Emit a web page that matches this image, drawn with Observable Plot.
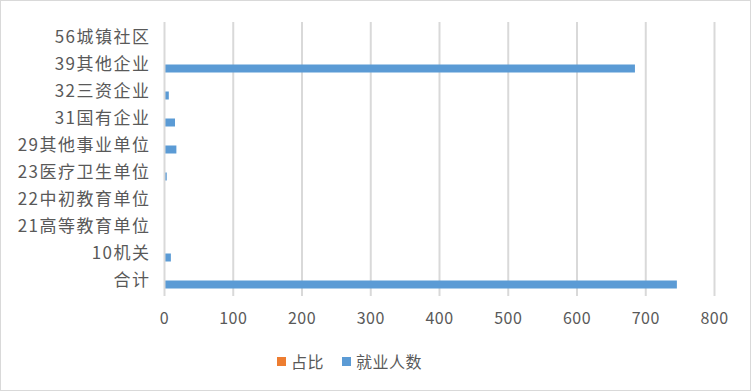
<!DOCTYPE html>
<html>
<head>
<meta charset="utf-8">
<script src="https://cdn.jsdelivr.net/npm/d3@7"></script>
<script src="https://cdn.jsdelivr.net/npm/@observablehq/plot@0.6"></script>
<style>
  html, body { margin: 0; padding: 0; background: #fff; }
  #frame {
    position: absolute; left: 0; top: 0;
    width: 749px; height: 389px;
    border: 1px solid #d9d9d9;
  }
  #chart { position: absolute; left: 0; top: 0; }
  #chart svg g[aria-label="y-axis tick label"] text { letter-spacing: 1.5px; font-size: 17px; }
  #chart svg g[aria-label="x-axis tick label"] text { letter-spacing: 0.5px; font-size: 16px; }
  #legend {
    position: absolute; left: 277px; top: 350px; height: 22px;
    display: flex; align-items: center;
    font-family: "Noto Sans CJK SC", sans-serif; font-size: 16px; color: #595959;
    letter-spacing: 0.5px;
  }
  .sw { display: inline-block; width: 9px; height: 9px; margin-right: 5px; }
  .item { display: flex; align-items: center; margin-right: 18px; }
</style>
</head>
<body>
<div id="frame"></div>
<div id="chart"></div>
<div id="legend"></div>
<script>
// Employment by employer type: head count and share of the total
const categories = ["合计", "10机关", "21高等教育单位", "22中初教育单位", "23医疗卫生单位",
  "29其他事业单位", "31国有企业", "32三资企业", "39其他企业", "56城镇社区"];
const employed = [746, 10, 0, 0, 4, 18, 16, 7, 685, 0];
const share = [1, 0.013, 0, 0, 0.005, 0.024, 0.021, 0.009, 0.918, 0];
const xTicks = [0, 100, 200, 300, 400, 500, 600, 700, 800];
const seriesNames = ["占比", "就业人数"];
const seriesColors = ["#ed7d31", "#5b9bd5"];

const rows = categories.map((c, i) => ({cat: c, employed: employed[i], share: share[i]}));

const chart = Plot.plot({
  width: 752,
  height: 340,
  marginLeft: 164,
  marginRight: 38,
  marginTop: 22,
  marginBottom: 44,
  style: {fontFamily: "'Noto Sans CJK SC', sans-serif", fontSize: "16px", color: "#595959", background: "transparent"},
  x: {domain: [0, 800], ticks: xTicks, label: null},
  y: {domain: categories.slice().reverse(), padding: 0, label: null},
  marks: [
    Plot.ruleX(xTicks.filter(d => d > 0), {stroke: "#d9d9d9", strokeWidth: 2, strokeOpacity: 1}),
    Plot.barX(rows, {x: "share", y: "cat", fill: seriesColors[0], insetTop: 5.5, insetBottom: 13.5}),
    Plot.barX(rows, {x: "employed", y: "cat", fill: seriesColors[1], insetTop: 13.5, insetBottom: 5.5}),
    Plot.ruleX([0], {stroke: "#d9d9d9", strokeWidth: 2, strokeOpacity: 1}),
    Plot.axisX({ticks: xTicks, tickSize: 0, tickPadding: 16, anchor: "bottom", label: null, tickFormat: d => String(d)}),
    Plot.axisY({tickSize: 0, tickPadding: 14, anchor: "left", label: null})
  ]
});
document.getElementById("chart").appendChild(chart);

// Legend below the plot
const legend = document.getElementById("legend");
seriesNames.forEach((name, i) => {
  const item = document.createElement("span");
  item.className = "item";
  const sw = document.createElement("span");
  sw.className = "sw";
  sw.style.background = seriesColors[i];
  item.appendChild(sw);
  item.appendChild(document.createTextNode(name));
  legend.appendChild(item);
});
</script>
</body>
</html>
